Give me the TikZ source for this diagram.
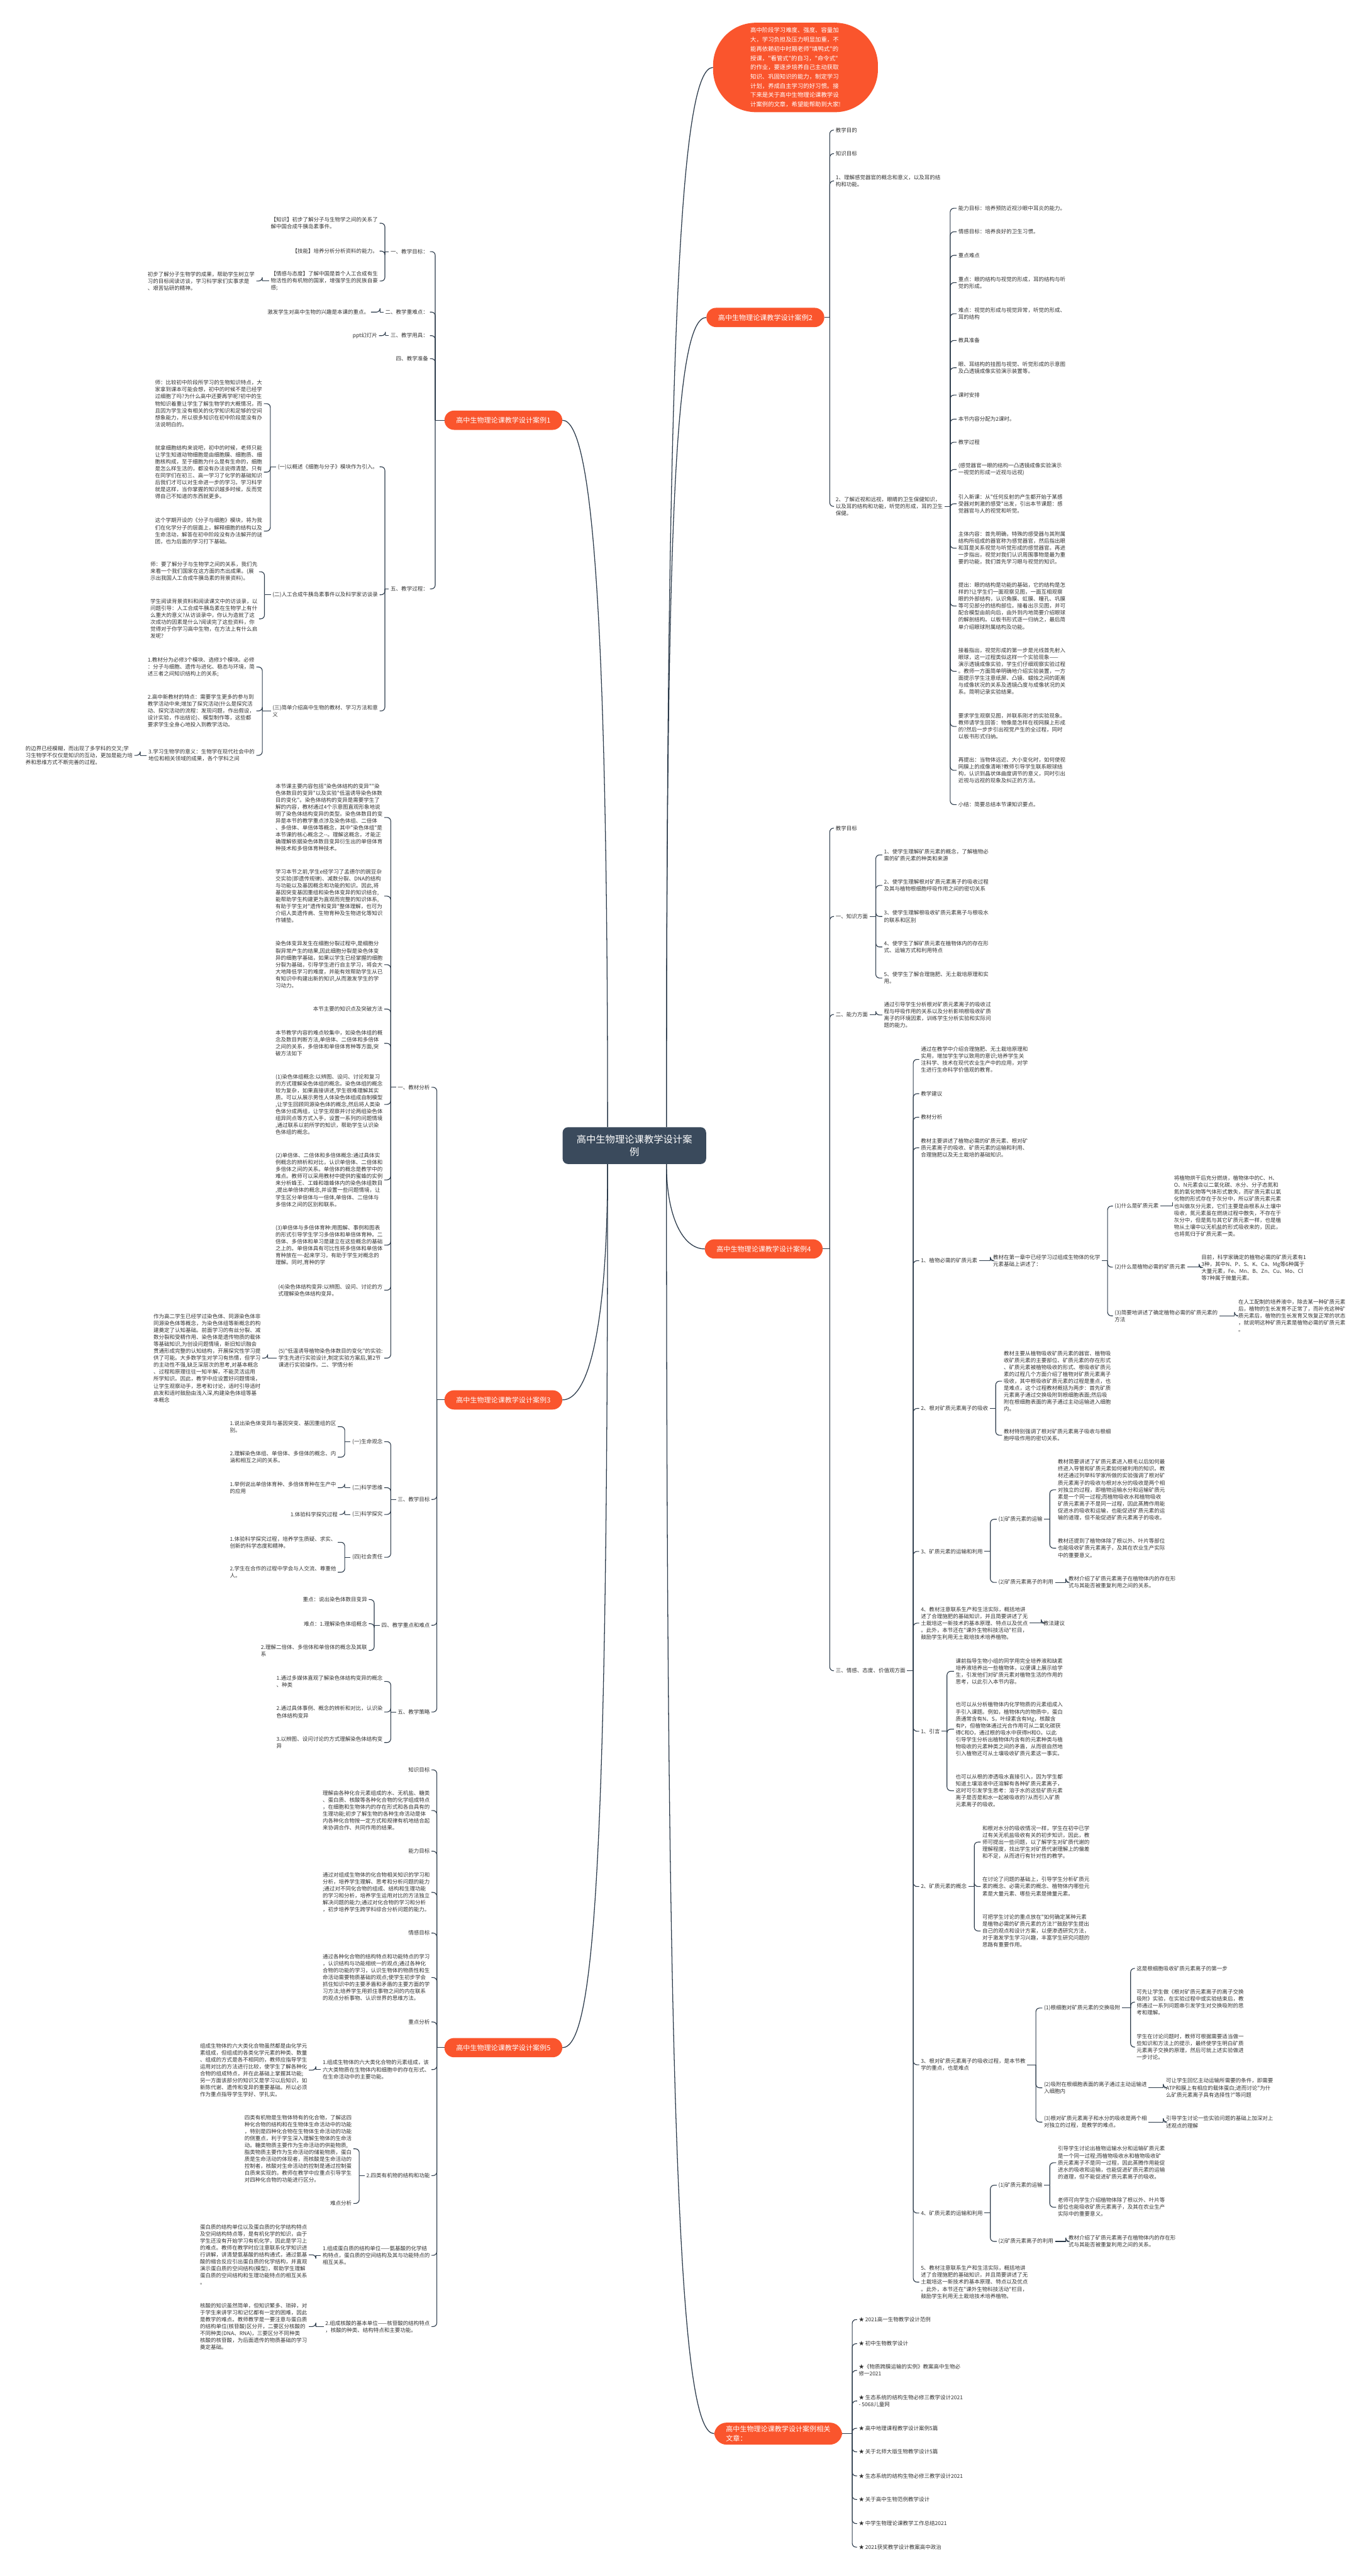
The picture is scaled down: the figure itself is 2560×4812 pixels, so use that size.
\documentclass[tikz,border=0pt]{standalone}
\usepackage{fontspec}
\newfontfamily\cjk{Noto Sans CJK SC}
\definecolor{redc}{RGB}{250,85,45}
\definecolor{centc}{RGB}{58,74,92}
\definecolor{linec}{RGB}{43,58,74}
\definecolor{txtc}{RGB}{51,51,51}
\tikzset{
 txt/.style={font=\cjk\fontsize{10}{13}\selectfont, text=txtc, align=left, inner xsep=3pt, inner ysep=1pt},
 conn/.style={draw=linec, line width=1.3pt, rounded corners=7pt},
 trunk/.style={draw=linec, line width=1.5pt},
 rednode/.style={fill=redc, text=white, font=\cjk\fontsize{13}{17}\selectfont, rounded corners=18pt, inner xsep=22pt, inner ysep=6pt, minimum height=36pt, align=left},
}
\newcommand\txR[4]{\node[txt,anchor=west] (#1) at (#2,#3) {#4};}
\newcommand\txL[4]{\node[txt,anchor=east] (#1) at (#2,#3) {#4};}
\newcommand\stR[2]{\coordinate (tmpb) at (#2,0); \draw[conn] (#1.east) -- (#1.east -| tmpb) coordinate (#1-b);}
\newcommand\stL[2]{\coordinate (tmpb) at (#2,0); \draw[conn] (#1.west) -- (#1.west -| tmpb) coordinate (#1-b);}
\newcommand\cnRs[2]{\foreach \kk in {#2}{\draw[conn] (#1-b) |- (\kk.west);}}
\newcommand\cnLs[2]{\foreach \kk in {#2}{\draw[conn] (#1-b) |- (\kk.east);}}
\begin{document}
\begin{tikzpicture}[x=1pt,y=-1pt]
\fill[white] (0,0) rectangle (2560,4812);
\useasboundingbox (0,0) rectangle (2560,4812);

% ---------- top and centre
\node[fill=redc, text=white, font=\cjk\fontsize{11}{17.25}\selectfont, align=left, rounded corners=80pt, minimum width=308pt, minimum height=167pt, inner sep=0pt] (T) at (1486,126) {高中阶段学习难度、强度、容量加\\大，学习负担及压力明显加重，不\\能再依赖初中时期老师"填鸭式"的\\授课，"看管式"的自习，"命令式"\\的作业，要逐步培养自己主动获取\\知识、巩固知识的能力，制定学习\\计划，养成自主学习的好习惯。接\\下来是关于高中生物理论课教学设\\计案例的文章，希望能帮助到大家!};
\node[fill=centc, text=white, font=\cjk\fontsize{18}{24}\selectfont, align=center, rounded corners=10pt, inner xsep=26pt, inner ysep=14pt] (C) at (1185,2140) {高中生物理论课教学设计案\\例};

\node[rednode,anchor=east] (B2) at (1540,593) {高中生物理论课教学设计案例2};
\node[rednode,anchor=east] (B4) at (1537,2333) {高中生物理论课教学设计案例4};
\node[rednode,anchor=west,rounded corners=23pt] (B6) at (1334,4546) {高中生物理论课教学设计案例相关\\文章：};
\node[rednode,anchor=west] (B1) at (830,785) {高中生物理论课教学设计案例1};
\node[rednode,anchor=west] (B3) at (830,2615) {高中生物理论课教学设计案例3};
\node[rednode,anchor=west] (B5) at (830,3825) {高中生物理论课教学设计案例5};

\draw[trunk] ([xshift=60pt]C.north) .. controls +(0,-1500) and +(-60,0) .. (T.west);
\draw[trunk] ([xshift=60pt]C.north) .. controls +(0,-1100) and +(-60,0) .. (B2.west);
\draw[trunk] ([xshift=60pt]C.south) .. controls +(0,100) and +(-40,0) .. (B4.west);
\draw[trunk] ([xshift=60pt]C.south) .. controls +(0,1900) and +(-60,0) .. (B6.west);
\draw[trunk] ([xshift=-50pt]C.north) .. controls +(0,-900) and +(60,0) .. (B1.east);
\draw[trunk] ([xshift=-50pt]C.south) .. controls +(0,300) and +(50,0) .. (B3.east);
\draw[trunk] ([xshift=-50pt]C.south) .. controls +(0,1300) and +(60,0) .. (B5.east);

% ---------- branch 2
\txR{b2a}{1558}{243}{教学目的}
\txR{b2b}{1558}{287}{知识目标}
\txR{b2c}{1558}{338}{1、理解感觉器官的概念和意义，以及耳的结\\构和功能。}
\txR{b2d}{1558}{946}{2、了解近视和远视，眼睛的卫生保健知识，\\以及耳的结构和功能，听觉的形成，耳的卫生\\保健。}
\stR{B2}{1550}\cnRs{B2}{b2a,b2b,b2c,b2d}
\txR{d1}{1787}{389}{能力目标：培养预防近视沙眼中耳炎的能力。}
\txR{d2}{1787}{433}{情感目标：培养良好的卫生习惯。}
\txR{d3}{1787}{477}{重点难点}
\txR{d4}{1787}{528}{重点：眼的结构与视觉的形成，耳的结构与听\\觉的形成。}
\txR{d5}{1787}{586}{难点：视觉的形成与视觉异常，听觉的形成、\\耳的结构}
\txR{d6}{1787}{636}{教具准备}
\txR{d7}{1787}{687}{眼、耳结构的挂图与视觉、听觉形成的示意图\\及凸透镜成像实验演示装置等。}
\txR{d8}{1787}{738}{课时安排}
\txR{d9}{1787}{783}{本节内容分配为2课时。}
\txR{d10}{1787}{826}{教学过程}
\txR{d11}{1787}{877}{(感觉器官一眼的结构一凸透镜成像实验演示\\一视觉的形成一近视与远视)}
\txR{d12}{1787}{941}{引入新课：从"任何反射的产生都开始于某感\\受器对刺激的感受"出发，引出本节课题：感\\觉器官与人的视觉和听觉。}
\txR{d13}{1787}{1024}{主体内容：首先明确，特殊的感受器与其附属\\结构所组成的器官称为感觉器官，然后指出眼\\和耳是关系视觉与听觉形成的感觉器官。再进\\一步指出，视觉对我们认识周围事物是最为重\\要的功能，我们首先学习眼与视觉的知识。}
\txR{d14}{1787}{1132}{提出：眼的结构是功能的基础，它的结构是怎\\样的?让学生们一面观察见图，一面互相观察\\眼的外部结构，认识角膜、虹膜、瞳孔、巩膜\\等可见部分的结构部位。接着出示见图，并可\\配合模型由前向后，由外到内地简要介绍眼球\\的解剖结构。以板书形式逐一归纳之，最后简\\单介绍眼球附属结构及功能。}
\txR{d15}{1787}{1254}{接着指出，视觉形成的第一步是光线首先射入\\眼球，这一过程类似这样一个实验现象——\\演示透镜成像实验，学生们仔细观察实验过程\\。教师一方面简单明确地介绍实验装置，一方\\面提示学生注意纸屏、凸镜、蜡烛之间的距离\\与成像状况的关系及透镜凸度与成像状况的关\\系。简明记录实验结果。}
\txR{d16}{1787}{1357}{要求学生观察见图，并联系刚才的实验现象。\\教师请学生回答：物像是怎样在视网膜上形成\\的?然后一步步引出视觉产生的全过程，同时\\以板书形式归纳。}
\txR{d17}{1787}{1439}{再提出：当物体远近、大小变化时，如何使视\\网膜上的成像清晰?教师引导学生联系眼球结\\构，认识到晶状体曲度调节的意义，同时引出\\近视与远视的现象及纠正的方法。}
\txR{d18}{1787}{1503}{小结：简要总结本节课知识要点。}
\stR{b2d}{1775}\cnRs{b2d}{d1,d2,d3,d4,d5,d6,d7,d8,d9,d10,d11,d12,d13,d14,d15,d16,d17,d18}

% ---------- branch 4
\txR{b4a}{1558}{1547}{教学目标}
\txR{b4b}{1558}{1712}{一、知识方面}
\txR{b4c}{1558}{1895}{二、能力方面}
\txR{b4d}{1558}{3121}{三、情感、态度、价值观方面}
\stR{B4}{1550}\cnRs{B4}{b4a,b4b,b4c,b4d}
\txR{k1}{1648}{1597}{1、使学生理解矿质元素的概念，了解植物必\\需的矿质元素的种类和来源}
\txR{k2}{1648}{1654}{2、使学生理解根对矿质元素离子的吸收过程\\及其与植物根细胞呼吸作用之间的密切关系}
\txR{k3}{1648}{1712}{3、使学生理解根吸收矿质元素离子与根吸水\\的联系和区别}
\txR{k4}{1648}{1769}{4、使学生了解矿质元素在植物体内的存在形\\式、运输方式和利用特点}
\txR{k5}{1648}{1827}{5、使学生了解合理施肥、无土栽培原理和实\\用。}
\stR{b4b}{1636}\cnRs{b4b}{k1,k2,k3,k4,k5}
\txR{c1}{1648}{1896}{通过引导学生分析根对矿质元素离子的吸收过\\程与呼吸作用的关系以及分析影响根吸收矿质\\离子的环境因素，训练学生分析实验和实际问\\题的能力。}
\stR{b4c}{1636}\cnRs{b4c}{c1}
\txR{e1}{1717}{1979}{通过在教学中介绍合理施肥、无土栽培原理和\\实用，增加学生学以致用的意识;培养学生关\\注科学、技术在现代农业生产中的应用，对学\\生进行生命科学价值观的教育。}
\txR{e2}{1717}{2043}{教学建议}
\txR{e3}{1717}{2087}{教材分析}
\txR{e4}{1717}{2144}{教材主要讲述了植物必需的矿质元素、根对矿\\质元素离子的吸收、矿质元素的运输和利用、\\合理施肥以及无土栽培的基础知识。}
\txR{e5}{1717}{2355}{1、植物必需的矿质元素}
\txR{e6}{1717}{2631}{2、根对矿质元素离子的吸收}
\txR{e7}{1717}{2898}{3、矿质元素的运输和利用}
\txR{e8}{1717}{3032}{4、教材注意联系生产和生活实际，概括地讲\\述了合理施肥的基础知识，并且简要讲述了无\\土栽培这一新技术的基本原理、特点以及优点\\。此外，本节还在"课外生物科技活动"栏目，\\鼓励学生利用无土栽培技术培养植物。}
\txR{e9}{1717}{3234}{1、引言}
\txR{e10}{1717}{3524}{2、矿质元素的概念}
\txR{e11}{1717}{3857}{3、根对矿质元素离子的吸收过程，是本节教\\学的重点，也是难点}
\txR{e12}{1717}{4134}{4、矿质元素的运输和利用}
\txR{e13}{1717}{4263}{5、教材注意联系生产和生活实际，概括地讲\\述了合理施肥的基础知识，并且简要讲述了无\\土栽培这一新技术的基本原理、特点以及优点\\。此外，本节还在"课外生物科技活动"栏目，\\鼓励学生利用无土栽培技术培养植物。}
\stR{b4d}{1706}\cnRs{b4d}{e1,e2,e3,e4,e5,e6,e7,e8,e9,e10,e11,e12,e13}
\txR{e5a}{1852}{2355}{教材在第一章中已经学习过组成生物体的化学\\元素基础上讲述了：}
\stR{e5}{1850}\cnRs{e5}{e5a}
\txR{f1}{2079}{2253}{(1)什么是矿质元素}
\txR{f2}{2079}{2367}{(2)什么是植物必需的矿质元素}
\txR{f3}{2079}{2458}{(3)简要地讲述了确定植物必需的矿质元素的\\方法}
\stR{e5a}{2069}\cnRs{e5a}{f1,f2,f3}
\txR{f1a}{2190}{2253}{将植物烘干后充分燃烧，植物体中的C、H、\\O、N元素会以二氧化碳、水分、分子态氮和\\氮的氧化物等气体形式散失，而矿质元素以氧\\化物的形式存在于灰分中，所以矿质元素元素\\也叫做灰分元素，它们主要是由根系从土壤中\\吸收，氮元素虽在燃烧过程中散失，不存在于\\灰分中，但是氮与其它矿质元素一样，也是植\\物从土壤中以无机盐的形式吸收来的，因此，\\也将氮归于矿质元素一类。}
\stR{f1}{2190}\cnRs{f1}{f1a}
\txR{f2a}{2241}{2368}{目前，科学家确定的植物必需的矿质元素有1\\3种，其中N、P、S、K、Ca、Mg等6种属于\\大量元素，Fe、Mn、B、Zn、Cu、Mo、Cl\\等7种属于微量元素。}
\stR{f2}{2240}\cnRs{f2}{f2a}
\txR{f3a}{2310}{2458}{在人工配制的培养液中，除去某一种矿质元素\\后，植物的生长发育不正常了，而补充这种矿\\质元素后，植物的生长发育又恢复正常的状态\\，就说明这种矿质元素是植物必需的矿质元素\\。}
\stR{f3}{2306}\cnRs{f3}{f3a}
\txR{g1}{1872}{2580}{教材主要从植物吸收矿质元素的器官、植物吸\\收矿质元素的主要部位、矿质元素的存在形式\\、矿质元素被植物吸收的形式、根吸收矿质元\\素的过程几个方面介绍了植物对矿质元素离子\\吸收，其中根吸收矿质元素的过程是重点，也\\是难点，这个过程教材概括为两步：首先矿质\\元素离子通过交换吸附到根细胞表面;然后吸\\附在根细胞表面的离子通过主动运输进入细胞\\内。}
\txR{g2}{1872}{2681}{教材特别强调了根对矿质元素离子吸收与根细\\胞呼吸作用的密切关系。}
\stR{e6}{1860}\cnRs{e6}{g1,g2}
\txR{h1}{1862}{2838}{(1)矿质元素的运输}
\txR{h2}{1862}{2956}{(2)矿质元素离子的利用}
\stR{e7}{1850}\cnRs{e7}{h1,h2}
\txR{h1a}{1973}{2783}{教材简要讲述了矿质元素进入根毛以后如何最\\终进入导管和矿质元素如何被利用的知识。教\\材还通过列举科学家所做的实验强调了根对矿\\质元素离子的吸收与根对水分的吸收是两个相\\对独立的过程，即植物运输水分和运输矿质元\\素是一个同一过程;而植物吸收水和植物吸收\\矿质元素离子不是同一过程，因此蒸腾作用能\\促进水的吸收和运输，也能促进矿质元素的运\\输的道理，但不能促进矿质元素离子的吸收。}
\txR{h1b}{1973}{2892}{教材还提到了植物体除了根以外、叶片等部位\\也能吸收矿质元素离子，及其在农业生产实际\\中的重要意义。}
\stR{h1}{1961}\cnRs{h1}{h1a,h1b}
\txR{h2a}{1993}{2956}{教材介绍了矿质元素离子在植物体内的存在形\\式与其能否被重复利用之间的关系。}
\stR{h2}{1991}\cnRs{h2}{h2a}
\txR{e8a}{1946}{3032}{教法建议}
\stR{e8}{1945}\cnRs{e8}{e8a}
\txR{i1}{1782}{3122}{课前指导生物小组的同学用完全培养液和缺素\\培养液培养出一些植物体，以便课上展示给学\\生，引发他们对矿质元素对植物生活的作用的\\思考，以此引入本节内容。}
\txR{i2}{1782}{3230}{也可以从分析植物体内化学物质的元素组成入\\手引入课题。例如，植物体内的物质中，蛋白\\质通常含有N、S，叶绿素含有Mg，核酸含\\有P，但植物体通过光合作用可从二氧化碳获\\得C和O，通过根的吸水中获得H和O。以此\\引导学生分析出植物体内含有的元素种类与植\\物吸收的元素种类之间的矛盾，从而很自然地\\引入植物还可从土壤吸收矿质元素这一事实。}
\txR{i3}{1782}{3345}{也可以从根的渗透吸水直接引入，因为学生都\\知道土壤溶液中还溶解有各种矿质元素离子，\\这时可引发学生思考：溶于水的这些矿质元素\\离子是否是和水一起被吸收的?从而引入矿质\\元素离子的吸收。}
\stR{e9}{1769}\cnRs{e9}{i1,i2,i3}
\txR{j1}{1832}{3441}{和根对水分的吸收情况一样，学生在初中已学\\过有关无机盐吸收有关的初步知识，因此，教\\师可提出一些问题，以了解学生对矿质代谢的\\理解程度，找出学生对矿质代谢理解上的偏差\\和不足，从而进行有针对性的教学。}
\txR{j2}{1832}{3524}{在讨论了问题的基础上，引导学生分析矿质元\\素的概念、必需元素的概念、植物体内哪些元\\素是大量元素、哪些元素是微量元素。}
\txR{j3}{1832}{3607}{可把学生讨论的重点放在"如何确定某种元素\\是植物必需的矿质元素的方法?"鼓励学生提出\\自己的观点和设计方案，以便渗透研究方法，\\对于激发学生学习兴趣，丰富学生研究问题的\\思路有重要作用。}
\stR{e10}{1820}\cnRs{e10}{j1,j2,j3}
\txR{m1}{1947}{3751}{(1)根细胞对矿质元素的交换吸附}
\txR{m2}{1947}{3900}{(2)吸附在根细胞表面的离子通过主动运输进\\入细胞内}
\txR{m3}{1947}{3964}{(3)根对矿质元素离子和水分的吸收是两个相\\对独立的过程，是教学的难点。}
\stR{e11}{1935}\cnRs{e11}{m1,m2,m3}
\txR{m1a}{2120}{3677}{这是根细胞吸收矿质元素离子的第一步}
\txR{m1b}{2120}{3740}{可先让学生做《根对矿质元素离子的离子交换\\吸附》实验，在实验过程中或实验结束后，教\\师通过一系列问题串引发学生对交换吸附的思\\考和理解。}
\txR{m1c}{2120}{3824}{学生在讨论问题时，教师可根据需要适当做一\\些知识和方法上的提示，最终使学生明白矿质\\元素离子交换的原理，然后可就上述实验做进\\一步讨论。}
\stR{m1}{2112}\cnRs{m1}{m1a,m1b,m1c}
\txR{m2a}{2175}{3900}{可让学生回忆主动运输所需要的条件，即需要\\ATP和膜上有相应的载体蛋白;进而讨论"为什\\么矿质元素离子具有选择性?"等问题}
\stR{m2}{2173}\cnRs{m2}{m2a}
\txR{m3a}{2175}{3964}{引导学生讨论一些实验问题的基础上加深对上\\述观点的理解}
\stR{m3}{2173}\cnRs{m3}{m3a}
\txR{n1}{1862}{4082}{(1)矿质元素的运输}
\txR{n2}{1862}{4187}{(2)矿质元素离子的利用}
\stR{e12}{1850}\cnRs{e12}{n1,n2}
\txR{n1a}{1973}{4040}{引导学生讨论出植物运输水分和运输矿质元素\\是一个同一过程;而植物吸收水和植物吸收矿\\质元素离子不是同一过程，因此蒸腾作用能促\\进水的吸收和运输，也能促进矿质元素的运输\\的道理，但不能促进矿质元素离子的吸收。}
\txR{n1b}{1973}{4123}{老师可向学生介绍植物体除了根以外、叶片等\\部位也能吸收矿质元素离子，及其在农业生产\\实际中的重要意义。}
\stR{n1}{1961}\cnRs{n1}{n1a,n1b}
\txR{n2a}{1993}{4187}{教材介绍了矿质元素离子在植物体内的存在形\\式与其能否被重复利用之间的关系。}
\stR{n2}{1991}\cnRs{n2}{n2a}

% ---------- branch 6
\txR{r6a}{1601}{4333}{★ 2021高一生物教学设计范例}
\txR{r6b}{1601}{4378}{★ 初中生物教学设计}
\txR{r6c}{1601}{4428}{★《物质跨膜运输的实例》教案高中生物必\\修一2021}
\txR{r6d}{1601}{4485}{★ 生态系统的结构生物必修三教学设计2021\\- 5068儿童网}
\txR{r6e}{1601}{4536}{★ 高中地理课程教学设计案例5篇}
\txR{r6f}{1601}{4580}{★ 关于北师大版生物教学设计5篇}
\txR{r6g}{1601}{4625}{★ 生态系统的结构生物必修三教学设计2021}
\txR{r6h}{1601}{4669}{★ 关于高中生物范例教学设计}
\txR{r6i}{1601}{4714}{★ 中学生物理论课教学工作总结2021}
\txR{r6j}{1601}{4758}{★ 2021获奖教学设计教案高中政治}
\stR{B6}{1592}\cnRs{B6}{r6a,r6b,r6c,r6d,r6e,r6f,r6g,r6h,r6i,r6j}

% ---------- branch 1
\txL{a1}{803}{470}{一、教学目标：}
\txL{a2}{803}{583}{二、教学重难点：}
\txL{a3}{803}{627}{三、教学用具：}
\txL{a4}{803}{670}{四、教学准备}
\txL{a5}{803}{1100}{五、教学过程：}
\stL{B1}{813}\cnLs{B1}{a1,a2,a3,a4,a5}
\txL{a1a}{709}{417}{【知识】初步了解分子与生物学之间的关系了\\解中国合成牛胰岛素事件。}
\txL{a1b}{709}{469}{【技能】培养分析分析资料的能力。}
\txL{a1c}{709}{525}{【情感与态度】了解中国是首个人工合成有生\\物活性的有机物的国家，增强学生的民族自豪\\感;}
\stL{a1}{719}\cnLs{a1}{a1a,a1b,a1c}
\txL{a1c1}{479}{525}{初步了解分子生物学的成果，帮助学生树立学\\习的目标阅读访谈，学习科学家们实事求是\\、艰苦钻研的精神。}
\stL{a1c}{490}\cnLs{a1c}{a1c1}
\txL{a2a}{693}{583}{激发学生对高中生物的兴趣是本课的重点。}
\stL{a2}{710}\cnLs{a2}{a2a}
\txL{a3a}{708}{627}{ppt幻灯片}
\stL{a3}{720}\cnLs{a3}{a3a}
\txL{p1}{709}{872}{(一)以概述《细胞与分子》模块作为引入。}
\txL{p2}{709}{1111}{(二)人工合成牛胰岛素事件以及科学家访谈录}
\txL{p3}{709}{1328}{(三)简单介绍高中生物的教材、学习方法和意\\义}
\stL{a5}{719}\cnLs{a5}{p1,p2,p3}
\txL{p1a}{493}{754}{师：比较初中阶段所学习的生物知识特点，大\\家拿到课本可能会想，初中的时候不是已经学\\过细胞了吗?为什么高中还要再学呢?初中的生\\物知识着重让学生了解生物学的大概情况，而\\且因为学生没有相关的化学知识和足够的空间\\想象能力，所以很多知识在初中阶段是没有办\\法说明白的。}
\txL{p1b}{493}{882}{就拿细胞结构来说吧，初中的时候，老师只能\\让学生知道动物细胞是由细胞膜、细胞质、细\\胞核构成，至于细胞为什么是有生命的，细胞\\是怎么样生活的，都没有办法说得清楚。只有\\在同学们在初三、高一学习了化学的基础知识\\后我们才可以对生命进一步的学习。学习科学\\就是这样，当你掌握的知识越多时候，反而觉\\得自己不知道的东西就更多。}
\txL{p1c}{493}{992}{这个学期开设的《分子与细胞》模块，将为我\\们在化学分子的层面上，解释细胞的结构以及\\生命活动，解答在初中阶段没有办法解开的谜\\团，也为后面的学习打下基础。}
\stL{p1}{505}\cnLs{p1}{p1a,p1b,p1c}
\txL{p2a}{484}{1068}{师：要了解分子与生物学之间的关系，我们先\\来看一个我们国家在这方面的杰出成果。(展\\示出我国人工合成牛胰岛素的背景资料)。}
\txL{p2b}{484}{1156}{学生阅读背景资料和阅读课文中的访谈录，以\\问题引导：人工合成牛胰岛素在生物学上有什\\么重大的意义?从访谈录中，你认为造就了这\\次成功的因素是什么?阅读完了这些资料，你\\觉得对于你学习高中生物，在方法上有什么启\\发呢?}
\stL{p2}{494}\cnLs{p2}{p2a,p2b}
\txL{p3a}{479}{1246}{1.教材分为必修3个模块、选修3个模块。必修\\：分子与细胞、遗传与进化、稳态与环境，简\\述三者之间知识结构上的关系;}
\txL{p3b}{479}{1328}{2.高中新教材的特点：需要学生更多的参与到\\教学活动中来;增加了探究活动(什么是探究活\\动、探究活动的流程：发现问题，作出假设，\\设计实验，作出结论)、模型制作等，这些都\\要求学生全身心地投入到教学活动。}
\txL{p3c}{479}{1411}{3.学习生物学的意义：生物学在现代社会中的\\地位和相关领域的成果，各个学科之间}
\stL{p3}{490}\cnLs{p3}{p3a,p3b,p3c}
\txL{p3c1}{251}{1411}{的边界已经模糊，而出现了多学科的交叉;学\\习生物学不仅仅是知识的互动，更加是能力培\\养和思维方式不断完善的过程。}
\stL{p3c}{262}\cnLs{p3c}{p3c1}

% ---------- branch 3
\txL{q1}{806}{2031}{一、教材分析}
\txL{q3}{806}{2801}{三、教学目标}
\txL{q4}{806}{3036}{四、教学重点和难点}
\txL{q5}{806}{3198}{五、教学策略}
\stL{B3}{816}\cnLs{B3}{q1,q3,q4,q5}
\txL{r1}{718}{1527}{本节课主要内容包括"染色体结构的变异""染\\色体数目的变异"以及实验"低温诱导染色体数\\目的变化"。染色体结构的变异是需要学生了\\解的内容，教材通过4个示意图直观形象地说\\明了染色体结构变异的类型。染色体数目的变\\异是本节的教学重点涉及染色体组、二倍体\\、多倍体、单倍体等概念，其中"染色体组"是\\本节课的核心概念之-{}-。理解这概念，才能正\\确理解依据染色体数目变异衍生出的单倍体育\\种技术和多倍体育种技术。}
\txL{r2}{718}{1674}{学习本节之前,学生e经学习了孟德尔的豌豆杂\\交实验(即遗传规律)、减数分裂、DNA的结构\\与功能以及基因概念和功能的知识。因此,将\\基因突变基因重组和染色体变异的知识结合,\\能帮助学生构建更为直观而完整的知识体系,\\有助于学生对"遗传和变异"整体理解，也可为\\介绍人类遗传病、生物育种及生物进化等知识\\作铺垫。}
\txL{r3}{718}{1802}{染色体变异发生在细胞分裂过程中,是细胞分\\裂异常产生的结果,因此细胞分裂是染色体变\\异的细胞学基础，如果以学生已经掌握的细胞\\分裂为基础，引导学生进行自主学习，将会大\\大地降低学习的难度，并能有效帮助学生从已\\有知识中构建出新的知识,从而激发学生的学\\习动力。}
\txL{r4}{718}{1885}{本节主要的知识点及突破方法}
\txL{r5}{718}{1949}{本节教学内容的难点较集中，如染色体组的概\\念及数目判断方法,单倍体、二倍体和多倍体\\之间的关系，多倍体和单倍体育种等方面,突\\破方法如下}
\txL{r6}{718}{2063}{(1)染色体组概念:以辨图、设问、讨论和复习\\的方式理解染色体组的概念。染色体组的概念\\较为复杂，如果直接讲述,学生很难理解其实\\质。可以从展示男性人体染色体组成自制模型\\,让学生回顾同源染色体的概念,然后将人类染\\色体分成两组，让学生观察并讨论两组染色体\\组异同点等方式入手，设置一系列的问题情境\\,通过联系以前所学的知识，帮助学生认识染\\色体组的概念。}
\txL{r7}{718}{2204}{(2)单倍体、二倍体和多倍体概念:通过具体实\\例概念的辨析和对比，认识单倍体、二倍体和\\多倍体之间的关系。单倍体的概念是教学中的\\难点。教师可以采用教材中提供的蜜蜂的实例\\来分析蜂王、工蜂和雄蜂体内的染色体组数目\\,提出单倍体的概念,并设置一些问题情境，让\\学生区分单倍体与一倍体,单倍体、二倍体与\\多倍体之间的区别和联系。}
\txL{r8}{718}{2326}{(3)单倍体与多倍体育种:用图解、事例和图表\\的形式引导学生学习多倍体和单倍体育种。二\\倍体、多倍体和单习是建立在这些概念的基础\\之上的。单倍体具有可比性将多倍体和单倍体\\育种放在一-起来学习，有助于学生对概念的\\理解。同时,育种的学}
\txL{r9}{718}{2410}{(4)染色体结构变异:以辨图、设问、讨论的方\\式理解染色体结构变异。}
\txL{r10}{718}{2537}{(5)"低温诱导植物染色体数目的变化"的实验:\\学生先进行实验设计,制定实验方案后,第2节\\课进行实验操作。二、学情分析}
\stL{q1}{730}\cnLs{q1}{r1,r2,r3,r4,r5,r6,r7,r8,r9,r10}
\txL{r10a}{490}{2537}{作为高二学生已经学过染色体、同源染色体非\\同源染色体等概念，为染色体组等新概念的构\\建奠定了认知基础。前面学习的有丝分裂、减\\数分裂和受精作用、染色体是遗传物质的载体\\等基础知识,为创设问题情境，新旧知识融会\\贯通形成完整的认知结构，开展探究性学习提\\供了可能。大多数学生对学习有热情，但学习\\的主动性不强,缺乏深层次的思考,对基本概念\\、过程和原理往往一知半解，不能灵活运用\\所学知识。因此，教学中应设置好问题情境，\\让学生观察动手，思考和讨论，适时引导适时\\启发和适时鼓励由浅入深,构建染色体组等基\\本概念}
\stL{r10}{500}\cnLs{r10}{r10a}
\txL{s1}{718}{2693}{(一)生命观念}
\txL{s2}{718}{2779}{(二)科学思维}
\txL{s3}{718}{2829}{(三)科学探究}
\txL{s4}{718}{2909}{(四)社会责任}
\stL{q3}{730}\cnLs{q3}{s1,s2,s3,s4}
\txL{s1a}{631}{2665}{1.说出染色体变异与基因突变、基因重组的区\\别。}
\txL{s1b}{631}{2722}{2.理解染色体组、单倍体、多倍体的概念、内\\涵和相互之间的关系。}
\stL{s1}{644}\cnLs{s1}{s1a,s1b}
\txL{s2a}{631}{2779}{1.举例说出单倍体育种、多倍体育种在生产中\\的应用}
\stL{s2}{644}\cnLs{s2}{s2a}
\txL{s3a}{634}{2829}{1.体验科学探究过程}
\stL{s3}{644}\cnLs{s3}{s3a}
\txL{s4a}{631}{2881}{1.体验科学探究过程，培养学生质疑、求实、\\创新的科学态度和精神。}
\txL{s4b}{631}{2937}{2.学生在合作的过程中学会与人交流、尊重他\\人。}
\stL{s4}{644}\cnLs{s4}{s4a,s4b}
\txL{t1}{689}{2988}{重点：说出染色体数目变异}
\txL{t2}{689}{3033}{难点：1.理解染色体组概念}
\txL{t3}{689}{3083}{2.理解二倍体、多倍体和单倍体的概念及其联\\系}
\stL{q4}{699}\cnLs{q4}{t1,t2,t3}
\txL{u1}{718}{3141}{1.通过多媒体直观了解染色体结构变异的概念\\、种类}
\txL{u2}{718}{3198}{2.通过具体事例、概念的辨析和对比，认识染\\色体结构变异}
\txL{u3}{718}{3255}{3.以辨图、设问讨论的方式理解染色体结构变\\异}
\stL{q5}{730}\cnLs{q5}{u1,u2,u3}

% ---------- branch 5
\txL{v1}{806}{3306}{知识目标}
\txL{v2}{806}{3382}{理解由各种化合元素组成的水、无机盐、糖类\\、蛋白质、核酸等各种化合物的化学组成特点\\，在细胞和生物体内的存在形式和各自具有的\\生理功能;初步了解生物的各种生命活动是体\\内各种化合物按一定方式和规律有机地结合起\\来协调合作、共同作用的结果。}
\txL{v3}{806}{3458}{能力目标}
\txL{v4}{806}{3535}{通过对组成生物体的化合物相关知识的学习和\\分析，培养学生理解、思考和分析问题的能力\\;通过对不同化合物的组成、结构和生理功能\\的学习和分析，培养学生运用对比的方法独立\\解决问题的能力;通过对化合物的学习和分析\\，初步培养学生跨学科综合分析问题的能力。}
\txL{v5}{806}{3611}{情感目标}
\txL{v6}{806}{3694}{通过各种化合物的结构特点和功能特点的学习\\，认识结构与功能相统一的观点;通过各种化\\合物的功能的学习，认识生物体的物质性和生\\命活动需要物质基础的观点;使学生初步学会\\抓住知识中的主要矛盾和矛盾的主要方面的学\\习方法;培养学生用抓住事物之间的内在联系\\的观点分析事物、认识世界的思维方法。}
\txL{v7}{806}{3777}{重点分析}
\txL{v8}{806}{3866}{1.组成生物体的六大类化合物的元素组成，该\\六大类物质在生物体内和细胞中的存在形式、\\在生命活动中的主要功能。}
\txL{v9}{806}{4064}{2.四类有机物的结构和功能}
\txL{v10}{806}{4213}{1.组成蛋白质的结构单位——氨基酸的化学结\\构特点，蛋白质的空间结构及其与功能特点的\\相互关系。}
\txL{v11}{806}{4346}{2.组成核酸的基本单位——核苷酸的结构特点\\，核酸的种类、结构特点和主要功能。}
\stL{B5}{816}\cnLs{B5}{v1,v2,v3,v4,v5,v6,v7,v8,v9,v10,v11}
\txL{v8a}{577}{3867}{组成生物体的六大类化合物虽然都是由化学元\\素组成，但组成的各类化学元素的种类、数量\\、组成的方式是各不相同的，教师应指导学生\\运用对比的方法进行比较，使学生了解各种化\\合物的组成特点，并在此基础上掌握其功能;\\另一方面该部分的知识又是学习以后知识，如\\新陈代谢、遗传和变异的重要基础。所以必须\\作为重点指导学生学好、学扎实。}
\stL{v8}{590}\cnLs{v8}{v8a}
\txL{v9a}{660}{4014}{四类有机物是生物体特有的化合物，了解这四\\种化合物的结构和在生物体生命活动中的功能\\，特别是四种化合物在生物体生命活动的功能\\的侧重点，利于学生深入理解生物体的生命活\\动。糖类物质主要作为生命活动的供能物质,\\脂类物质主要作为生命活动的储能物质，蛋白\\质是生命活动的体现者，而核酸是生命活动的\\控制者，核酸对生命活动的控制是通过控制蛋\\白质来实现的。教师在教学中应重点引导学生\\对四种化合物的功能进行区分。}
\txL{v9b}{660}{4116}{难点分析}
\stL{v9}{671}\cnLs{v9}{v9a,v9b}
\txL{v10a}{577}{4212}{蛋白质的结构单位以及蛋白质的化学结构特点\\及空间结构特点等，是有机化学的知识，由于\\学生还没有开始学习有机化学，因此是学习上\\的难点。教师在教学时应注意联系化学知识进\\行讲解，讲清楚氨基酸的结构通式，通过氨基\\酸的缩合反应引出蛋白质的化学结构，并直观\\演示蛋白质的空间结构(模型)，帮助学生理解\\蛋白质的空间结构和生理功能特点的相互关系\\。}
\stL{v10}{590}\cnLs{v10}{v10a}
\txL{v11a}{577}{4346}{核酸的知识虽然简单，但知识繁多、琐碎，对\\于学生来讲学习和记忆都有一定的困难，因此\\是教学的难点。教师教学是一要注意与蛋白质\\的结构单位(核苷酸)区分开，二要区分核酸的\\不同种类(DNA、RNA)，三要区分不同种类\\核酸的核苷酸，为后面遗传的物质基础的学习\\奠定基础。}
\stL{v11}{590}\cnLs{v11}{v11a}
\end{tikzpicture}
\end{document}
